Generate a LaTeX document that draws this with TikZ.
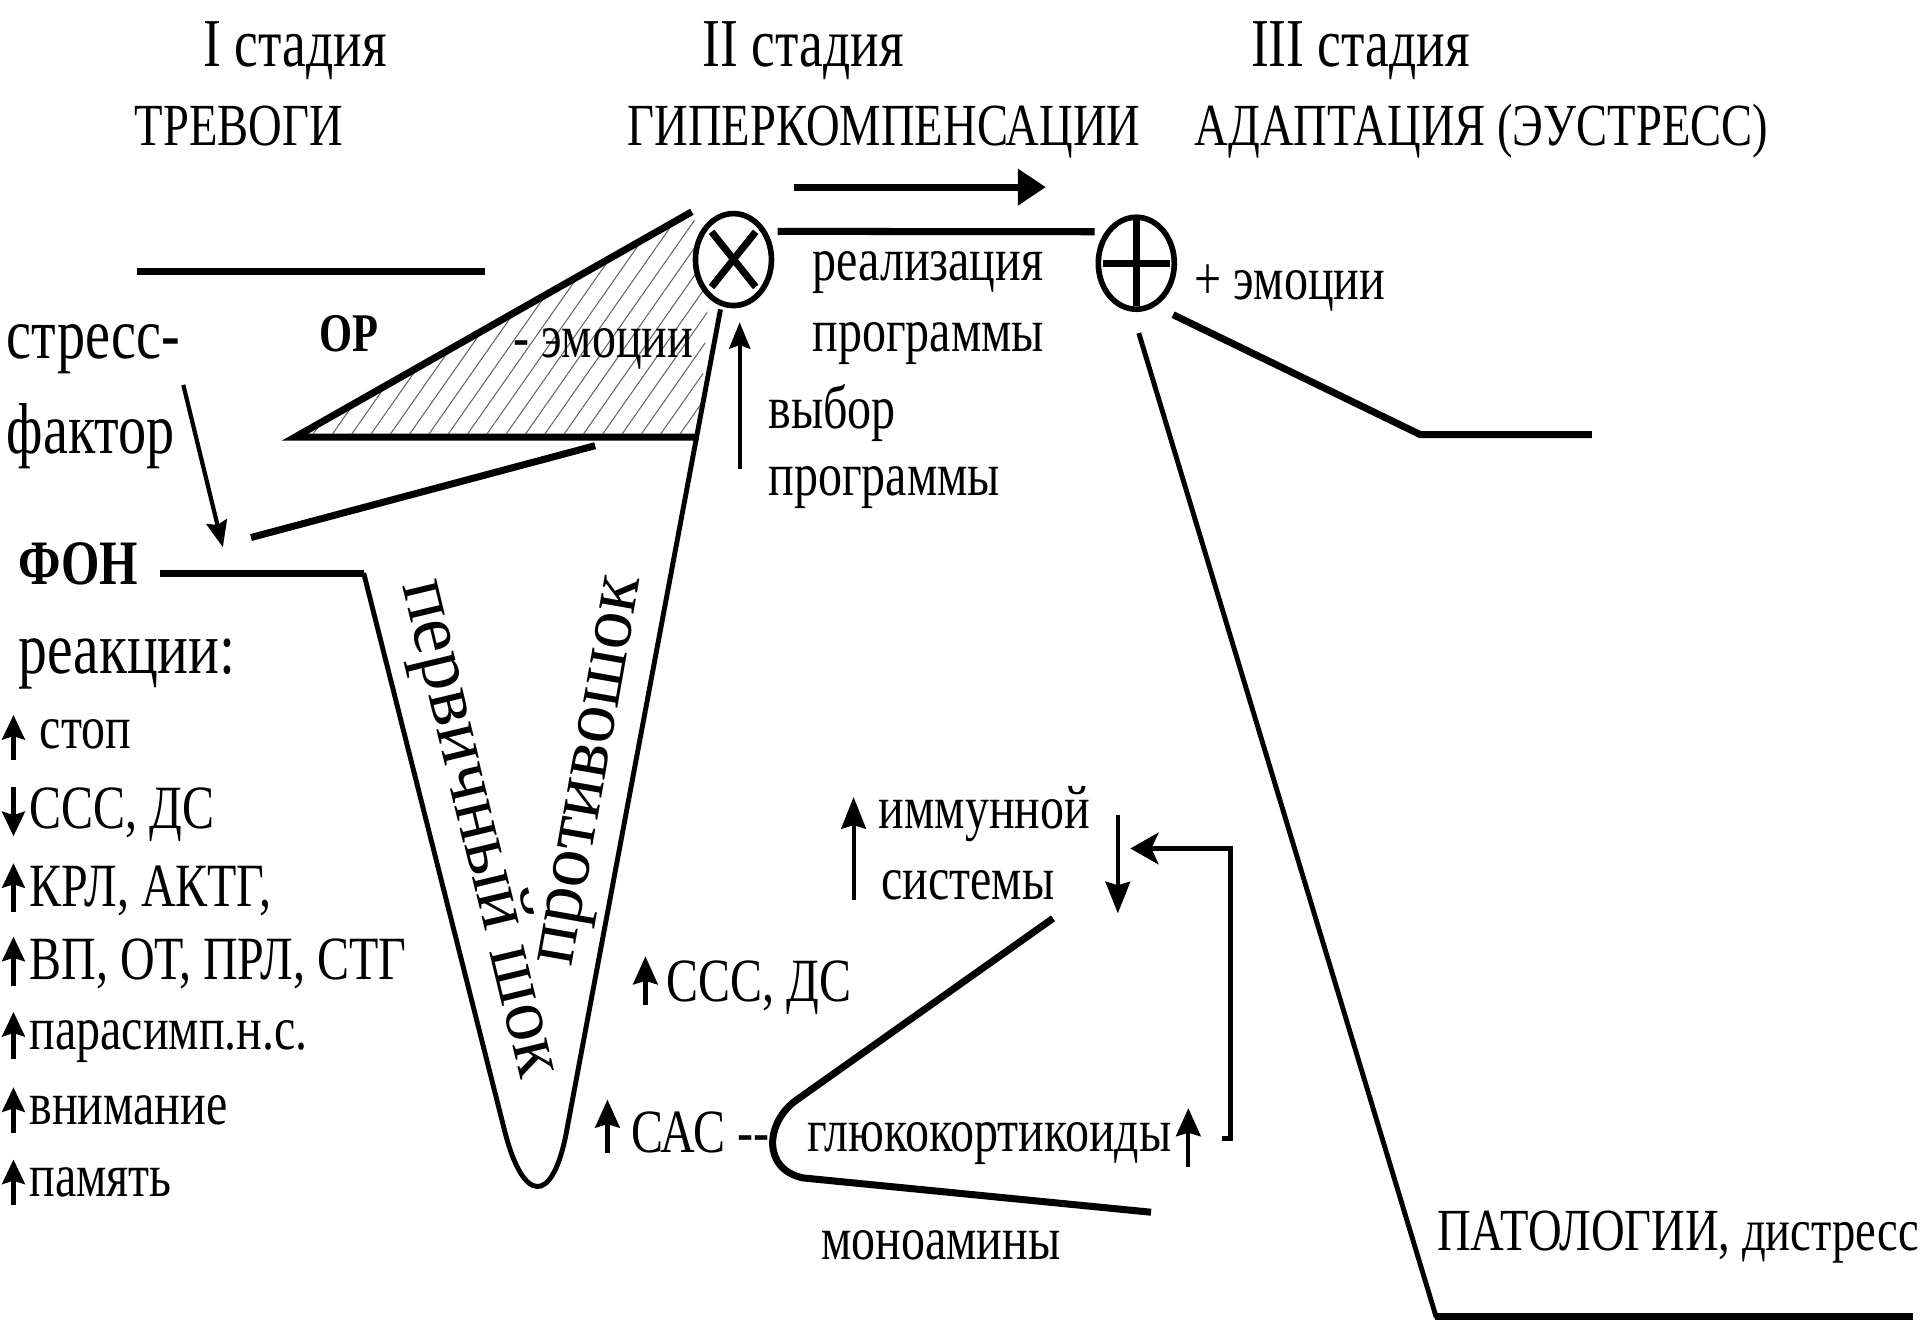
\documentclass[tikz,border=0pt]{standalone}
\usepackage{fontspec}
\setmainfont{Liberation Serif}[FakeStretch=0.78]
\newfontfamily\rotfont{Liberation Serif}
\usetikzlibrary{arrows.meta,patterns.meta,shapes.geometric,calc}

\begin{document}
\begin{tikzpicture}[scale=1.2245,
    txt/.style={inner sep=0pt, anchor=base west, font=\fontsize{17.5}{20}\selectfont},
    ttl/.style={inner sep=0pt, anchor=base, font=\fontsize{17}{20}\selectfont},
    bigtxt/.style={txt, font=\fontsize{20.5}{24}\selectfont},
    rottxt/.style={inner sep=0pt, font=\rotfont\fontsize{21.5}{24}\selectfont},
    thk/.style={line width=2pt},
    midln/.style={line width=1.4pt},
    marr/.style={line width=1.2pt, -{Stealth[length=7pt, width=6.5pt, inset=1pt]}},
    rarr/.style={line width=1.2pt, -{Stealth[length=8pt, width=7pt, inset=1pt]}},
    iarr/.style={line width=1.2pt, -{Stealth[length=9pt, width=7pt, inset=1pt]}},
    larr/.style={line width=1.2pt, -{Stealth[length=7.5pt, width=6pt, inset=1pt]}},
    sumcirc/.style={draw, ellipse, line width=1.6pt, fill=white, inner sep=0pt, minimum width=0.76cm, minimum height=0.92cm}]
  \fill[white] (0,0) rectangle (15.68,10.80);
  \useasboundingbox (0,0) rectangle (15.68,10.80);

  % заголовки стадий
  \node[ttl, font=\fontsize{19.5}{22}\selectfont] (st1) at (2.41,10.26) {I стадия};
  \node[ttl] (trev) at (1.95,9.61) {ТРЕВОГИ};
  \node[ttl, font=\fontsize{19.5}{22}\selectfont] (st2) at (6.56,10.26) {II стадия};
  \node[ttl] (giper) at (7.22,9.61) {ГИПЕРКОМПЕНСАЦИИ};
  \node[ttl, font=\fontsize{19.5}{22}\selectfont] (st3) at (11.11,10.26) {III стадия};
  \node[ttl] (adapt) at (12.10,9.61) {АДАПТАЦИЯ (ЭУСТРЕСС)};

  % направление
  \coordinate (dirA) at (6.48,9.27);
  \coordinate (dirB) at (8.54,9.27);
  \draw[line width=2pt, -{Triangle[length=8pt, width=10pt]}] (dirA) -- (dirB);

  % ориентировочная реакция
  \draw[thk] (1.12,8.58) -- (3.96,8.58);
  \fill[pattern={Lines[angle=55, distance=4.5pt, line width=0.3pt]}, pattern color=black!60]
    (2.41,7.23) -- (5.65,9.07) -- (5.80,8.60) -- (5.706,7.23) -- cycle;
  \draw[thk] (5.65,9.07) -- (2.41,7.23) -- (5.706,7.23);
  \node[txt, font=\bfseries\fontsize{15.5}{18}\selectfont] (or) at (2.60,7.93) {ОР};
  \node[txt] (emneg) at (4.19,7.88) {- эмоции};
  \draw[thk] (2.05,6.41) -- (4.86,7.16);

  % знаки
  \node[sumcirc] (mul) at (5.99,8.68) {};
  \node[sumcirc] (plus) at (9.28,8.65) {};
  \draw[thk] ($(mul)+(-0.18,0.225)$) -- ($(mul)+(0.18,-0.225)$)
    ($(mul)+(-0.18,-0.225)$) -- ($(mul)+(0.18,0.225)$);
  \draw[thk] ($(plus)+(-0.27,0)$) -- ($(plus)+(0.27,0)$)
    ($(plus)+(0,-0.35)$) -- ($(plus)+(0,0.35)$);
  \draw[thk, shorten <=3pt, shorten >=3pt] (mul.40) -- (plus.135);

  % стресс-фактор и фон
  \node[bigtxt] (stress) at (0.05,7.87) {стресс-};
  \node[bigtxt] (faktor) at (0.05,7.10) {фактор};
  \node[txt, font=\bfseries\fontsize{18}{21}\selectfont] (fon) at (0.145,6.03) {ФОН};
  \coordinate (fonin) at (1.82,6.33);
  \draw[larr, shorten <=3pt] (stress.south east) -- (fonin);

  % первичный шок и противошок
  \draw[thk] (1.31,6.12) -- (2.97,6.12);
  \draw[midln, line join=round, shorten >=1pt] (2.97,6.12) -- (4.12,1.57)
    .. controls (4.27,0.97) and (4.51,0.95) .. (4.625,1.55) -- (mul.255);
  \node[rottxt, rotate=-76.5] (pshok) at (3.91,4.03) {первичный шок};
  \node[rottxt, rotate=80] (protiv) at (4.87,4.50) {противошок};

  % реакции
  \node[txt, font=\fontsize{21}{24}\selectfont] (reak) at (0.145,5.30) {реакции:};
  \node[txt] (r1) at (0.32,4.69) {стоп};
  \node[txt] (r2) at (0.235,4.03) {ССС, ДС};
  \node[txt] (r3) at (0.235,3.40) {КРЛ, АКТГ,};
  \node[txt] (r4) at (0.235,2.80) {ВП, ОТ, ПРЛ, СТГ};
  \node[txt] (r5) at (0.235,2.225) {парасимп.н.с.};
  \node[txt] (r6) at (0.235,1.62) {внимание};
  \node[txt] (r7) at (0.235,1.03) {память};
  \draw[marr] ($(r1.base west)+(-0.21,-0.10)$) -- ++(0,0.37);
  \draw[marr] ($(r2.base west)+(-0.125,0.34)$) -- ++(0,-0.40);
  \draw[marr] ($(r3.base west)+(-0.125,-0.05)$) -- ++(0,0.40);
  \draw[marr] ($(r4.base west)+(-0.125,-0.05)$) -- ++(0,0.40);
  \draw[marr] ($(r5.base west)+(-0.125,-0.07)$) -- ++(0,0.38);
  \draw[marr] ($(r6.base west)+(-0.125,-0.07)$) -- ++(0,0.37);
  \draw[marr] ($(r7.base west)+(-0.125,-0.07)$) -- ++(0,0.37);

  % реализация программы
  \node[txt] (real) at (6.63,8.51) {реализация};
  \node[txt] (prog) at (6.63,7.93) {программы};
  \node[txt] (vybor) at (6.27,7.30) {выбор};
  \node[txt] (prog2) at (6.27,6.75) {программы};
  \coordinate (vyb) at (6.04,6.97);
  \draw[larr, shorten >=4pt] (vyb) -- (vyb |- mul.south);

  % третья стадия
  \node[txt] (empos) at (9.75,8.35) {+ эмоции};
  \draw[thk] (9.58,8.23) -- (11.60,7.25) -- (13.00,7.25);
  \draw[midln] (9.30,8.08) -- (11.73,0.04);
  \draw[thk] (11.72,0.05) -- (15.62,0.05);
  \node[txt, font=\fontsize{17}{20}\selectfont] (pato) at (11.73,0.59) {ПАТОЛОГИИ, дистресс};

  % иммунитет и гормоны
  \node[txt] (immun) at (7.17,4.03) {иммунной};
  \node[txt] (sist) at (7.19,3.45) {системы};
  \draw[iarr] ($(immun.base west)+(-0.20,-0.58)$) -- ++(0,0.84);
  \draw[iarr] ($(immun.base east)+(0.22,0.11)$) -- ++(0,-0.80);
  \node[txt] (sss) at (5.44,2.62) {ССС, ДС};
  \draw[rarr] ($(sss.base west)+(-0.17,-0.03)$) -- ++(0,0.40);
  \node[txt] (sas) at (5.15,1.39) {САС -{}-};
  \draw[rarr] ($(sas.base west)+(-0.19,-0.01)$) -- ++(0,0.44);
  \node[txt] (gluk) at (6.59,1.40) {глюкокортикоиды};
  \draw[rarr] ($(gluk.base east)+(0.13,-0.13)$) -- ++(0,0.48);
  \node[txt] (mono) at (6.70,0.51) {моноамины};
  \draw[thk] (8.60,3.30) -- (6.51,1.82) .. controls (6.25,1.64) and (6.22,1.25) .. (6.56,1.18) -- (9.40,0.90);
  \coordinate (fbA) at (9.98,1.50);
  \coordinate (fbB) at (9.23,3.87);
  \draw[midln, -{Stealth[length=8pt, width=9pt, inset=2pt]}] (fbA) -- ++(0.07,0) |- (fbB);
\end{tikzpicture}
\end{document}
